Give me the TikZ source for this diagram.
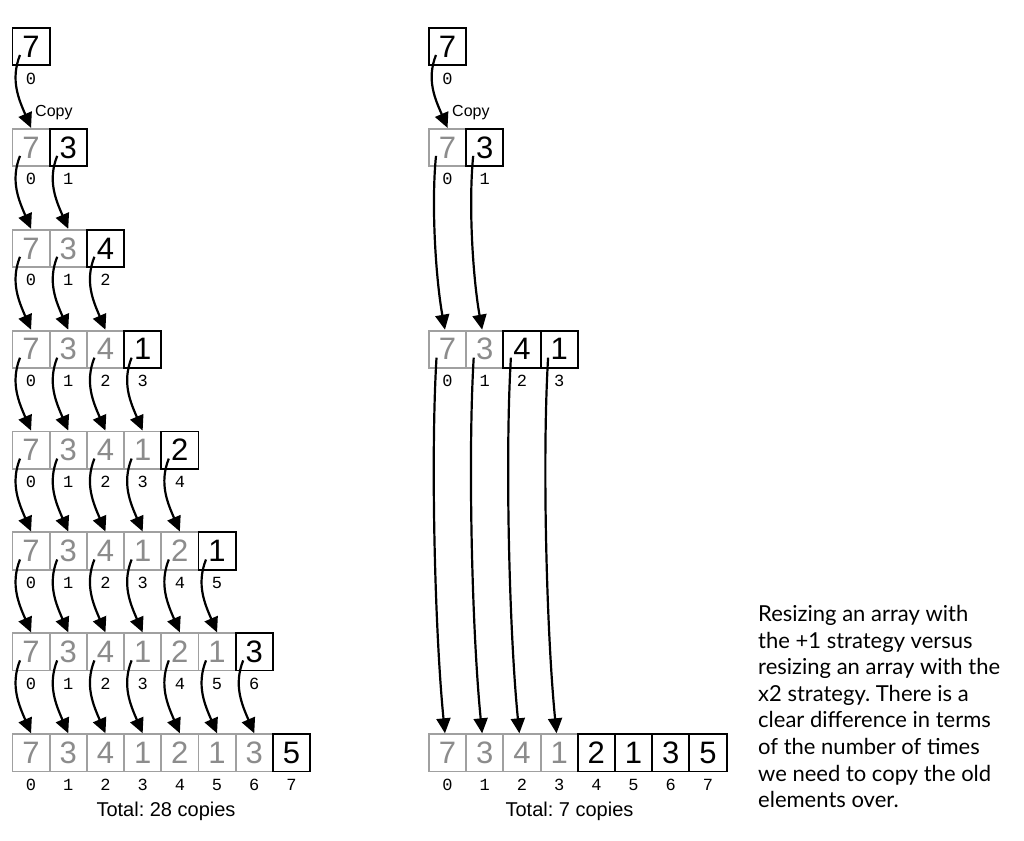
\documentclass[tikz,border=0pt]{standalone}
\usepackage{fontspec}
\setmainfont{Liberation Sans}
\newfontfamily\monofnt{Liberation Mono}
\newfontfamily\parafnt{Lato}
\usetikzlibrary{arrows.meta,calc}
\definecolor{cellgray}{HTML}{A0A0A0}
\definecolor{digitgray}{HTML}{8C8C8C}
\frenchspacing
\tikzset{
  cellbase/.style={rectangle, minimum width=37.2pt, minimum height=37.2pt, inner sep=0pt, line width=1.9pt, anchor=north west, font=\fontsize{31}{31}\selectfont},
  oldcell/.style={cellbase, draw=cellgray, text=digitgray},
  newcell/.style={cellbase, draw=black, text=black},
  idx/.style={font=\monofnt\fontsize{17}{17}\selectfont, inner sep=0pt, anchor=base},
  copyarrow/.style={line width=2.2pt, -{Triangle[length=15pt,width=14pt]}},
  copylbl/.style={font=\fontsize{16}{16}\selectfont, inner sep=0pt, anchor=base west},
  totallbl/.style={font=\fontsize{20}{20}\selectfont, inner sep=0pt, anchor=base},
}
\begin{document}
\frenchspacing
\begin{tikzpicture}[x=1pt,y=1pt]
\useasboundingbox (0,0) rectangle (1024,840);
\fill[white] (0,0) rectangle (1024,840);
% ---------- left: +1 strategy ----------
\foreach \r in {0,...,7}{
  \pgfmathsetmacro{\Y}{813-100.9*\r}
  \foreach \d [count=\i from 0] in {7,3,4,1,2,1,3,5}{
    \pgfmathsetmacro{\X}{11.5+37.2*\i}
    \ifnum\i<\r
      \node[oldcell] (L\r-\i) at (\X,\Y) {\d};
      \node[idx] (Li\r-\i) at ($(L\r-\i.south)+(0,-18)$) {\i};
    \else\ifnum\i=\r
      \node[newcell] (L\r-\i) at (\X,\Y) {\d};
      \node[idx] (Li\r-\i) at ($(L\r-\i.south)+(0,-18)$) {\i};
    \fi\fi
  }
}
\foreach \r in {0,...,6}{
  \pgfmathtruncatemacro{\rn}{\r+1}
  \foreach \i in {0,...,\r}{
    \draw[copyarrow] ([shift={(8.5pt,-28pt)}]L\r-\i.north west)
      .. controls +(-10,-25) and +(-12,28) .. (L\rn-\i.north);
  }
}
\node[copylbl] (lcopy) at (35,723) {Copy};
\node[totallbl] (ltotal) at (166,24) {Total: 28 copies};
% ---------- right: x2 strategy ----------
\foreach \r/\ng/\nn in {0/0/1,1/1/2,3/2/4,7/4/8}{
  \pgfmathsetmacro{\Y}{813-100.9*\r}
  \foreach \d [count=\i from 0] in {7,3,4,1,2,1,3,5}{
    \pgfmathsetmacro{\X}{428+37.2*\i}
    \ifnum\i<\nn
      \ifnum\i<\ng
        \node[oldcell] (R\r-\i) at (\X,\Y) {\d};
      \else
        \node[newcell] (R\r-\i) at (\X,\Y) {\d};
      \fi
      \node[idx] (Ri\r-\i) at ($(R\r-\i.south)+(0,-18)$) {\i};
    \fi
  }
}
\draw[copyarrow] ([shift={(8pt,-28pt)}]R0-0.north west)
  .. controls +(-10,-25) and +(-12,28) .. (R1-0.north);
\foreach \i in {0,1}{
  \draw[copyarrow] ([shift={(8pt,-28pt)}]R1-\i.north west)
    .. controls +(-5,-50) and +(-9,50) .. ([xshift=-2.6pt]R3-\i.north);
}
\foreach \i in {0,...,3}{
  \draw[copyarrow] ([shift={(8.5pt,-28pt)}]R3-\i.north west)
    .. controls +(-6,-100) and +(-10,100) .. ([xshift=-2.6pt]R7-\i.north);
}
\node[copylbl] (rcopy) at (452,723) {Copy};
\node[totallbl] (rtotal) at (569.5,24) {Total: 7 copies};
% ---------- description ----------
\node[anchor=north west, align=left, inner sep=0pt,
      font=\parafnt\fontsize{22}{26.6}\selectfont] (desc) at (758,235)
  {Resizing an array with\\
   the +1 strategy versus\\
   resizing an array with the\\
   x2 strategy. There is a\\
   clear difference in terms\\
   of the number of times\\
   we need to copy the old\\
   elements over.};
\end{tikzpicture}
\end{document}
